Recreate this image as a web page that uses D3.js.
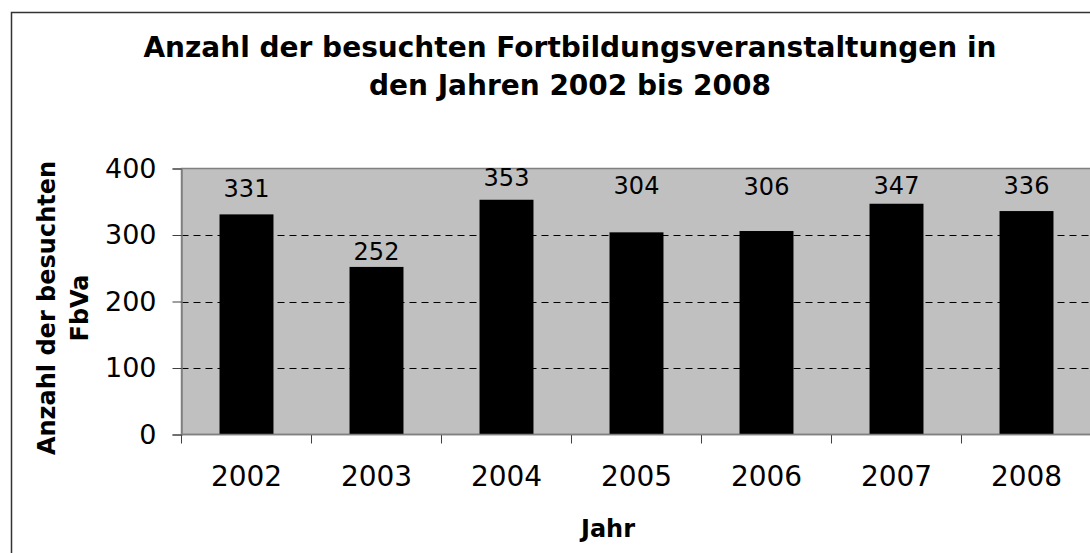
<!DOCTYPE html>
<html>
<head>
<meta charset="utf-8">
<script src="https://cdn.jsdelivr.net/npm/d3@7"></script>
<style>
body { margin: 0; background: #fff; }
svg { display: block; font-family: "DejaVu Sans", Verdana, sans-serif; }
</style>
</head>
<body>
<div id="graph"></div>
<script>
// data
var years = ['2002', '2003', '2004', '2005', '2006', '2007', '2008']
var counts = [331, 252, 353, 304, 306, 347, 336]
// where each value label sits, in data units (labels were moved by hand)
var labelAt = [357, 262, 373, 362, 360, 361, 362]
var yTicks = [0, 100, 200, 300, 400]
var titleLines = ['Anzahl der besuchten Fortbildungsveranstaltungen in', 'den Jahren 2002 bis 2008']
var yTitleLines = ['Anzahl der besuchten', 'FbVa']
var xTitle = 'Jahr'

!(function(){
	var W = 1090, H = 553
	var plotLeft = 181.5, plotTop = 168.5, plotBottom = 434.5, step = 130

	var svg = d3.select('#graph').append('svg')
		.attr('width', W).attr('height', H)

	// outer chart frame
	svg.append('rect')
		.attr('x', 11.5).attr('y', 12.5)
		.attr('width', W + 20).attr('height', H + 20)
		.attr('fill', '#fff').attr('stroke', '#333').attr('stroke-width', 1.5)

	var x = d3.scaleBand().domain(years).range([plotLeft, plotLeft + step*years.length])
	var y = d3.scaleLinear().domain([0, 400]).range([plotBottom, plotTop])
	var plotRight = x.range()[1]

	// plot area
	svg.append('rect')
		.attr('x', plotLeft).attr('y', plotTop)
		.attr('width', plotRight - plotLeft).attr('height', plotBottom - plotTop)
		.attr('fill', '#c0c0c0').attr('stroke', '#808080').attr('stroke-width', 1.5)

	// dashed gridlines
	svg.append('g').selectAll('line')
		.data(yTicks.filter(d => d > 0 && d < 400))
		.join('line')
		.attr('x1', plotLeft).attr('x2', plotRight)
		.attr('y1', d => Math.round(y(d)) + .5).attr('y2', d => Math.round(y(d)) + .5)
		.attr('stroke', '#000').attr('stroke-dasharray', '7,5')

	var barW = x.bandwidth()*0.415

	svg.append('g').selectAll('rect')
		.data(counts)
		.join('rect')
		.attr('x', (d, i) => x(years[i]) + (x.bandwidth() - barW)/2)
		.attr('y', d => y(d))
		.attr('width', barW)
		.attr('height', d => plotBottom - y(d))
		.attr('fill', '#000')

	// value labels
	svg.append('g').selectAll('text')
		.data(counts)
		.join('text')
		.attr('x', (d, i) => x(years[i]) + x.bandwidth()/2)
		.attr('y', (d, i) => y(labelAt[i]))
		.attr('text-anchor', 'middle')
		.attr('font-size', 24)
		.attr('fill', '#000')
		.text(d => d)

	// y axis
	var yAxis = svg.append('g')
		.attr('transform', 'translate(' + plotLeft + ',0)')
		.call(d3.axisLeft(y).tickValues(yTicks).tickSize(9).tickPadding(16))
	yAxis.select('.domain').attr('stroke', '#808080').attr('stroke-width', 1.5)
	yAxis.selectAll('.tick line').attr('stroke', '#404040')
	yAxis.selectAll('.tick text')
		.attr('font-size', 27).attr('font-family', 'DejaVu Sans').attr('fill', '#000')

	// x axis, ticks between categories
	var xAxis = svg.append('g')
		.attr('transform', 'translate(0,' + plotBottom + ')')
		.call(d3.axisBottom(x).tickSize(0).tickPadding(32))
	xAxis.select('.domain').remove()
	xAxis.selectAll('.tick text')
		.attr('font-size', 28).attr('font-family', 'DejaVu Sans').attr('fill', '#000')
	xAxis.append('g').selectAll('line')
		.data(d3.range(years.length + 1))
		.join('line')
		.attr('x1', i => plotLeft + i*x.step()).attr('x2', i => plotLeft + i*x.step())
		.attr('y1', 0).attr('y2', 9)
		.attr('stroke', '#404040')
	xAxis.append('line')
		.attr('x1', plotLeft).attr('x2', plotRight)
		.attr('stroke', '#808080').attr('stroke-width', 1.5)

	// titles
	svg.append('g').selectAll('text')
		.data(titleLines)
		.join('text')
		.attr('x', 570).attr('y', (d, i) => 57 + i*38)
		.attr('text-anchor', 'middle')
		.attr('font-size', 28).attr('font-weight', 'bold')
		.text(d => d)

	svg.append('g').selectAll('text')
		.data(yTitleLines)
		.join('text')
		.attr('transform', (d, i) => 'translate(' + (55 + i*33) + ',308) rotate(-90)')
		.attr('text-anchor', 'middle')
		.attr('font-size', 24).attr('font-weight', 'bold')
		.text(d => d)

	svg.append('text')
		.attr('x', 608).attr('y', 537)
		.attr('text-anchor', 'middle')
		.attr('font-size', 24).attr('font-weight', 'bold')
		.text(xTitle)
})()
</script>
</body>
</html>
